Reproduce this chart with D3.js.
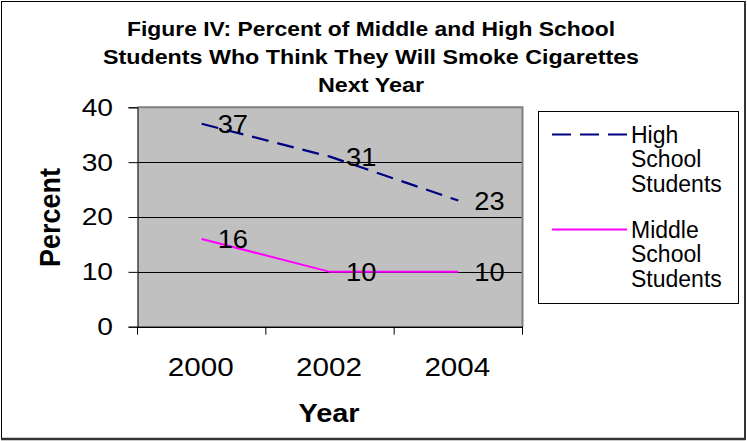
<!DOCTYPE html>
<html>
<head>
<meta charset="utf-8">
<script src="https://cdn.jsdelivr.net/npm/d3@7/dist/d3.min.js"></script>
<style>
  html, body { margin: 0; padding: 0; background: #fff; }
  svg { display: block; }
  text { font-family: Arial, "Liberation Sans", Helvetica, sans-serif; fill: #000; }
</style>
</head>
<body>
<svg id="chart" width="747" height="441"></svg>
<script>
// ---- data ----
const years = ["2000", "2002", "2004"];
const highSchool = [37, 31, 23];
const middleSchool = [16, 10, 10];
const seriesNames = ["High School Students", "Middle School Students"];
const yTicks = [0, 10, 20, 30, 40];
const titleLines = [
  "Figure IV: Percent of Middle and High School",
  "Students Who Think They Will Smoke Cigarettes",
  "Next Year"
];
const xTitle = "Year";
const yTitle = "Percent";

// ---- layout ----
const W = 747, H = 441;
const plot = { left: 137.5, right: 522.5, top: 107.3, bottom: 326.7 };
const svg = d3.select("#chart");

const x = d3.scaleBand().domain(years).range([plot.left, plot.right]);
const y = d3.scaleLinear().domain([0, 40]).range([plot.bottom, plot.top]);
const cx = d => x(d) + x.bandwidth() / 2;

// outer frame
svg.append("rect").attr("x", 1.5).attr("y", 1.5).attr("width", W - 4).attr("height", H - 4)
  .attr("fill", "#fff").attr("stroke", "#000").attr("stroke-width", 1);
svg.append("line").attr("x1", 1).attr("x2", W - 1.5).attr("y1", H - 2).attr("y2", H - 2)
  .attr("stroke", "#333").attr("stroke-width", 2.5);
svg.append("line").attr("x1", W - 2).attr("x2", W - 2).attr("y1", 1).attr("y2", H - 1)
  .attr("stroke", "#333").attr("stroke-width", 2);

// title
const titleLen = [488, 536, 106];
const titleBase = [36.2, 64.3, 92];
svg.append("g").selectAll("text").data(titleLines).join("text")
  .attr("x", 371).attr("y", (d, i) => titleBase[i])
  .attr("text-anchor", "middle")
  .attr("font-size", 19.5).attr("font-weight", "bold")
  .attr("textLength", (d, i) => titleLen[i])
  .attr("lengthAdjust", "spacingAndGlyphs")
  .text(d => d);

// plot background
svg.append("rect").attr("x", plot.left).attr("y", plot.top)
  .attr("width", plot.right - plot.left).attr("height", plot.bottom - plot.top)
  .attr("fill", "#c0c0c0");

// gridlines
svg.append("g").selectAll("line").data(yTicks.filter(t => t > 0 && t < 40)).join("line")
  .attr("x1", plot.left).attr("x2", plot.right)
  .attr("y1", d => Math.round(y(d)) + 0.5).attr("y2", d => Math.round(y(d)) + 0.5)
  .attr("stroke", "#000").attr("stroke-width", 1);

// plot border (top and right gray)
svg.append("path")
  .attr("d", `M${plot.left},${plot.top} H${plot.right} V${plot.bottom}`)
  .attr("fill", "none").attr("stroke", "#808080").attr("stroke-width", 2);

// y axis
const yAxis = d3.axisLeft(y).tickValues(yTicks).tickSize(9).tickPadding(0).tickFormat(() => "");
const gy = svg.append("g").attr("transform", `translate(${plot.left},0)`).call(yAxis);
gy.select(".domain").attr("stroke", "#000");
gy.selectAll(".tick line").attr("stroke", "#000");

svg.append("g").selectAll("text").data(yTicks).join("text")
  .attr("transform", d => `translate(113,${y(d)}) scale(1.2,1)`)
  .attr("text-anchor", "end").attr("dy", "0.36em")
  .attr("font-size", 23.5)
  .text(d => d);

// x axis
const xAxis = d3.axisBottom(x).tickSize(0).tickFormat(() => "");
const gx = svg.append("g").attr("transform", `translate(0,${plot.bottom})`).call(xAxis);
gx.select(".domain").attr("stroke", "#000").attr("stroke-width", 1.5);
const bounds = [plot.left, ...years.slice(1).map(d => x(d)), plot.right];
svg.append("g").selectAll("line").data(bounds).join("line")
  .attr("x1", d => d).attr("x2", d => d)
  .attr("y1", plot.bottom).attr("y2", plot.bottom + 8)
  .attr("stroke", "#000");

svg.append("g").selectAll("text").data(years).join("text")
  .attr("transform", d => `translate(${cx(d) - 1},376) scale(1.14,1)`)
  .attr("text-anchor", "middle")
  .attr("font-size", 26)
  .text(d => d);

// axis titles
svg.append("text").attr("x", 329).attr("y", 421.7)
  .attr("text-anchor", "middle").attr("font-size", 25).attr("font-weight", "bold")
  .attr("textLength", 61).attr("lengthAdjust", "spacingAndGlyphs")
  .text(xTitle);
svg.append("text").attr("transform", "translate(60,217.5) rotate(-90)")
  .attr("text-anchor", "middle").attr("font-size", 29).attr("font-weight", "bold")
  .attr("textLength", 99).attr("lengthAdjust", "spacingAndGlyphs")
  .text(yTitle);

// lines
const line = d3.line().x(d => cx(d.year)).y(d => y(d.value));
const hsData = years.map((yr, i) => ({ year: yr, value: highSchool[i] }));
const msData = years.map((yr, i) => ({ year: yr, value: middleSchool[i] }));
const dash = "17,9";

svg.append("path").datum(msData).attr("d", line)
  .attr("fill", "none").attr("stroke", "#ff00ff").attr("stroke-width", 2);
svg.append("path").datum(hsData).attr("d", line)
  .attr("fill", "none").attr("stroke", "#000080").attr("stroke-width", 2.2)
  .attr("stroke-dasharray", dash);

// data labels
const labels = hsData.concat(msData);
svg.append("g").selectAll("text").data(labels).join("text")
  .attr("transform", d => `translate(${cx(d.year) + 16},${y(d.value)}) scale(1.05,1)`)
  .attr("dy", "0.36em")
  .attr("font-size", 26)
  .text(d => d.value);

// legend
const lg = svg.append("g");
lg.append("rect").attr("x", 538.5).attr("y", 111.5).attr("width", 200).attr("height", 192)
  .attr("fill", "#fff").attr("stroke", "#000").attr("stroke-width", 1);
const legendItems = [
  { name: seriesNames[0], color: "#000080", dash: "19,9", lineY: 134.5, base: 142.7 },
  { name: seriesNames[1], color: "#ff00ff", dash: null, lineY: 229.5, base: 237.7 }
];
const lineGap = 24.5;
legendItems.forEach(it => {
  lg.append("line").attr("x1", 552).attr("x2", 627).attr("y1", it.lineY).attr("y2", it.lineY)
    .attr("stroke", it.color).attr("stroke-width", 2.2)
    .attr("stroke-dasharray", it.dash);
  const words = it.name.split(" ");
  lg.append("g").selectAll("text").data(words).join("text")
    .attr("x", 631).attr("y", (d, i) => it.base + i * lineGap)
    .attr("font-size", 23)
    .text(d => d);
});
</script>
</body>
</html>
